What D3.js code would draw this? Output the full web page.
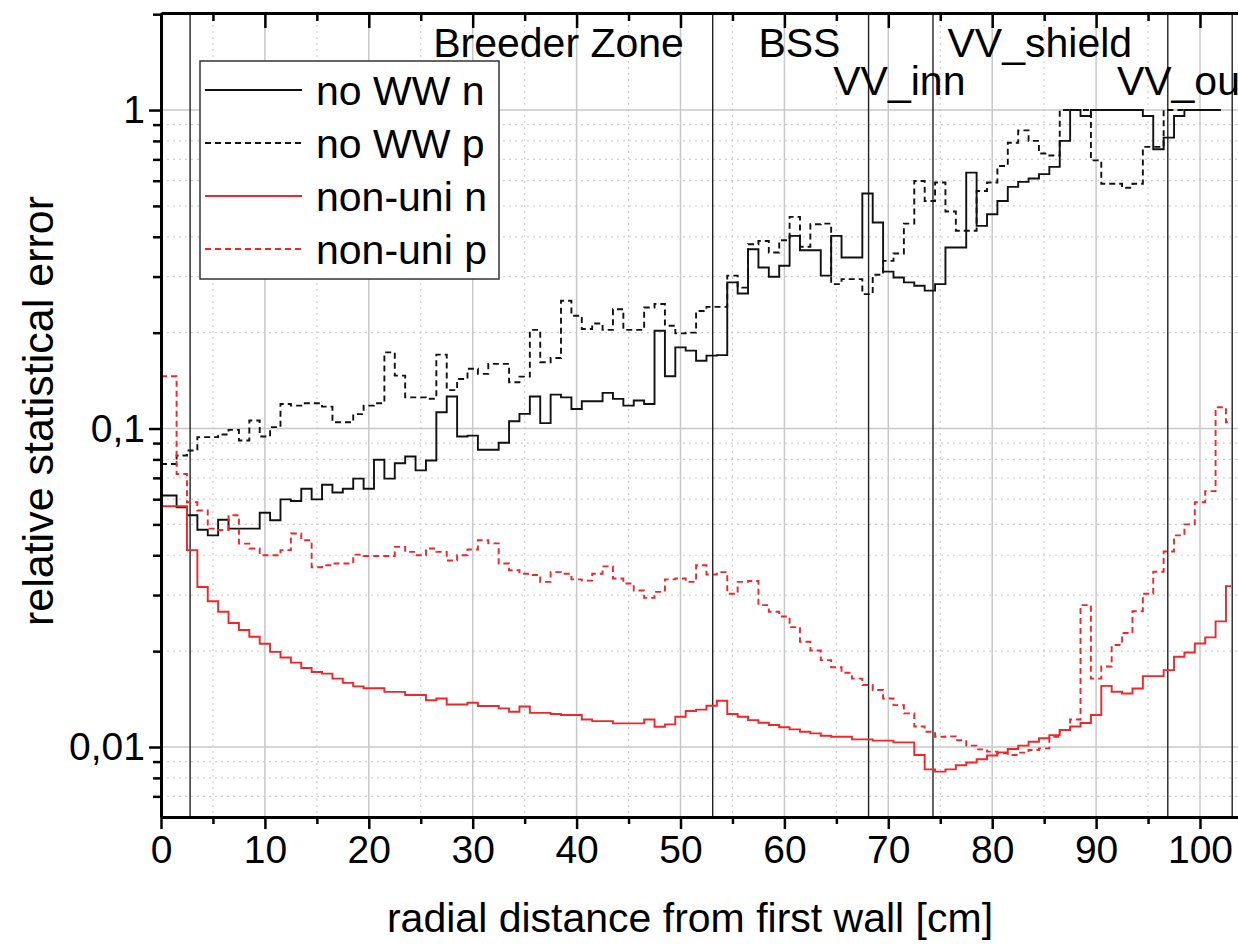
<!DOCTYPE html>
<html>
<head>
<meta charset="utf-8">
<script src="https://cdn.jsdelivr.net/npm/d3@7"></script>
<style>
  body { margin: 0; background: #fff; }
  text { font-family: "Liberation Sans", Arial, sans-serif; fill: #000; }
</style>
</head>
<body>
<div id="chart"></div>
<script>
// bin centres in cm from the first wall
var binsN = d3.range(0, 103);   // 0..102 (no WW runs stop at 102)
var binsU = d3.range(0, 104);   // 0..103

var noWWn = [0.0616, 0.0616, 0.0566, 0.0534, 0.0481, 0.0462, 0.0517, 0.0485, 0.0485, 0.0485,
  0.0544, 0.0515, 0.0599, 0.0592, 0.0647, 0.0599, 0.0666, 0.063, 0.0647, 0.0696,
  0.0647, 0.0798, 0.0696, 0.0778, 0.0817, 0.0739, 0.0794, 0.1125, 0.126, 0.0944,
  0.095, 0.0858, 0.0858, 0.0902, 0.1054, 0.1112, 0.126, 0.104, 0.1278, 0.1253,
  0.1152, 0.1218, 0.1218, 0.1294, 0.1239, 0.118, 0.1225, 0.1194, 0.2028, 0.1459,
  0.1798, 0.1756, 0.1633, 0.1694, 0.170, 0.2877, 0.2655, 0.3656, 0.3205, 0.2995,
  0.3243, 0.4027, 0.363, 0.363, 0.302, 0.4027, 0.3445, 0.3445, 0.547, 0.4435,
  0.311, 0.298, 0.2877, 0.2806, 0.271, 0.284, 0.37, 0.37, 0.636, 0.4327,
  0.471, 0.518, 0.5737, 0.595, 0.6095, 0.629, 0.663, 0.80, 1.0, 0.958,
  1.0, 1.0, 1.0, 1.0, 1.0, 0.958, 0.753, 0.819, 0.958, 1.0,
  1.0, 1.0, 1.0];

var noWWp = [0.0774, 0.0774, 0.0823, 0.0853, 0.094, 0.094, 0.0958, 0.099, 0.0917, 0.106,
  0.0944, 0.101, 0.1194, 0.118, 0.12, 0.12, 0.1172, 0.1047, 0.1047, 0.111,
  0.118, 0.12, 0.1734, 0.1466, 0.1253, 0.1253, 0.124, 0.1706, 0.132, 0.143,
  0.154, 0.1485, 0.1596, 0.1596, 0.1397, 0.1455, 0.204, 0.1614, 0.1665, 0.2519,
  0.226, 0.2053, 0.2138, 0.204, 0.237, 0.204, 0.204, 0.24, 0.246, 0.2103,
  0.199, 0.2, 0.234, 0.241, 0.241, 0.302, 0.277, 0.379, 0.388, 0.357,
  0.39, 0.462, 0.372, 0.438, 0.44, 0.284, 0.2946, 0.2946, 0.2643, 0.304,
  0.336, 0.3545, 0.44, 0.599, 0.518, 0.592, 0.48, 0.4177, 0.4177, 0.557,
  0.592, 0.667, 0.789, 0.863, 0.80, 0.73, 0.72, 1.0, 1.0, 1.0,
  0.695, 0.587, 0.587, 0.570, 0.587, 0.766, 0.766, 1.0, 1.0, 1.0,
  1.0, 1.0, 1.0];

var nonUniN = [0.057, 0.057, 0.057, 0.0415, 0.0318, 0.0287, 0.0266, 0.0245, 0.0233, 0.0222,
  0.0211, 0.0199, 0.0191, 0.0184, 0.0177, 0.0172, 0.0170, 0.0164, 0.0159, 0.0155,
  0.0153, 0.0153, 0.0149, 0.0149, 0.01456, 0.01456, 0.01403, 0.0142, 0.0136, 0.0136,
  0.01377, 0.01345, 0.01345, 0.01322, 0.0129, 0.0134, 0.0128, 0.0128, 0.01269, 0.0126,
  0.0126, 0.0122, 0.01206, 0.01206, 0.01186, 0.01186, 0.01186, 0.0122, 0.01158, 0.01178,
  0.01244, 0.01297, 0.0131, 0.01348, 0.01397, 0.0127, 0.01244, 0.01215, 0.01192, 0.01172,
  0.01153, 0.01136, 0.01117, 0.01104, 0.01085, 0.01077, 0.01077, 0.01057, 0.01057, 0.01047,
  0.01047, 0.01034, 0.01034, 0.00944, 0.00851, 0.00837, 0.00851, 0.00876, 0.00894, 0.00915,
  0.0094, 0.00962, 0.00986, 0.0101, 0.01039, 0.01065, 0.0109, 0.01131, 0.0116, 0.0119,
  0.0126, 0.01556, 0.01491, 0.01473, 0.01527, 0.0167, 0.0167, 0.01744, 0.0192, 0.0198,
  0.02113, 0.0221, 0.0248, 0.032];

var nonUniP = [0.1459, 0.1459, 0.072, 0.0587, 0.0553, 0.0485, 0.048, 0.0534, 0.0435, 0.042,
  0.04, 0.04, 0.0415, 0.0468, 0.0446, 0.0367, 0.0372, 0.0377, 0.0377, 0.0402,
  0.0398, 0.0398, 0.0398, 0.0425, 0.041, 0.04, 0.042, 0.041, 0.0385, 0.04,
  0.0417, 0.0446, 0.0436, 0.0377, 0.0359, 0.035, 0.0347, 0.033, 0.0354, 0.035,
  0.0336, 0.0333, 0.035, 0.0369, 0.0338, 0.0326, 0.031, 0.0294, 0.0307, 0.0336,
  0.0338, 0.033, 0.0372, 0.0348, 0.0354, 0.0303, 0.033, 0.0332, 0.0279, 0.0266,
  0.0257, 0.0238, 0.0214, 0.0201, 0.01874, 0.0178, 0.0171, 0.0164, 0.01565, 0.0151,
  0.0142, 0.01354, 0.01275, 0.0116, 0.01117, 0.01077, 0.0108, 0.0105, 0.0101, 0.00983,
  0.00967, 0.00955, 0.00944, 0.0096, 0.00979, 0.0099, 0.01077, 0.01131, 0.0122, 0.0279,
  0.0164, 0.0179, 0.0209, 0.0228, 0.0267, 0.0303, 0.0355, 0.0411, 0.0462, 0.05,
  0.0587, 0.0636, 0.1166, 0.1047];

// zone boundaries [cm] and zone names
var zoneEdges = [2.8, 53.1, 68.1, 74.3, 96.9, 103.1];
var zoneNames = ["Breeder Zone", "BSS", "VV_inn", "VV_shield", "VV_out"];
var zoneLabelX = [26.2, 57.5, 64.7, 75.7, 92.0];

var xMajor = [0, 10, 20, 30, 40, 50, 60, 70, 80, 90, 100];
var xMinor = [5, 15, 25, 35, 45, 55, 65, 75, 85, 95, 105];
var yMajor = [0.01, 0.1, 1];
var yMinor = [0.007, 0.008, 0.009, 0.02, 0.03, 0.04, 0.05, 0.06, 0.07, 0.08, 0.09,
  0.2, 0.3, 0.4, 0.5, 0.6, 0.7, 0.8, 0.9, 2];

var seriesNames = ["no WW n", "no WW p", "non-uni n", "non-uni p"];

var red = "#f0262b";
var series = [
  { name: seriesNames[0], xs: binsN, ys: noWWn, color: "#111", dash: null },
  { name: seriesNames[1], xs: binsN, ys: noWWp, color: "#111", dash: "6,4" },
  { name: seriesNames[2], xs: binsU, ys: nonUniN, color: red, dash: null },
  { name: seriesNames[3], xs: binsU, ys: nonUniP, color: red, dash: "6,4" }
];

var W = 1238, H = 945;
var plotL = 161, plotT = 13, plotB = 817;

var svg = d3.select("#chart")
  .append("svg")
    .attr("width", W)
    .attr("height", H);

var x = d3.scaleLinear()
  .domain([0, 105])
  .range([plotL, plotL + 105 * 10.39]);

var y = d3.scaleLog()
  .domain([0.006029, 2.017])
  .range([plotB, plotT]);

svg.append("defs").append("clipPath")
  .attr("id", "plot")
  .append("rect")
    .attr("x", plotL).attr("y", plotT)
    .attr("width", W - plotL).attr("height", plotB - plotT);

// grid
var grid = svg.append("g");
grid.selectAll(".gxm").data(xMinor).enter().append("line")
  .attr("x1", d => x(d)).attr("x2", d => x(d))
  .attr("y1", plotT).attr("y2", plotB)
  .attr("stroke", "#cfcfcf").attr("stroke-width", 1.2).attr("stroke-dasharray", "2,4");
grid.selectAll(".gym").data(yMinor).enter().append("line")
  .attr("x1", plotL).attr("x2", W)
  .attr("y1", d => y(d)).attr("y2", d => y(d))
  .attr("stroke", "#cfcfcf").attr("stroke-width", 1.2).attr("stroke-dasharray", "2,4");
grid.selectAll(".gx").data(xMajor).enter().append("line")
  .attr("x1", d => x(d)).attr("x2", d => x(d))
  .attr("y1", plotT).attr("y2", plotB)
  .attr("stroke", "#c8c8c8").attr("stroke-width", 1.5);
grid.selectAll(".gy").data(yMajor).enter().append("line")
  .attr("x1", plotL).attr("x2", W)
  .attr("y1", d => y(d)).attr("y2", d => y(d))
  .attr("stroke", "#c8c8c8").attr("stroke-width", 1.5);

// zone boundaries
svg.append("g").selectAll("line").data(zoneEdges).enter().append("line")
  .attr("x1", d => x(d)).attr("x2", d => x(d))
  .attr("y1", plotT).attr("y2", plotB)
  .attr("stroke", "#222").attr("stroke-width", 1.4);

// histogram lines
var line = d3.line()
  .curve(d3.curveStep)
  .x(d => x(d[0]))
  .y(d => y(d[1]));

svg.append("g").attr("clip-path", "url(#plot)")
  .selectAll("path").data(series).enter().append("path")
    .attr("fill", "none")
    .attr("stroke", d => d.color)
    .attr("stroke-width", 1.9)
    .attr("stroke-dasharray", d => d.dash)
    .attr("d", d => line(d.xs.map((v, i) => [v, d.ys[i]])));

// axes
function styleAxis(g) {
  g.select(".domain").attr("stroke-width", 3);
  g.selectAll(".tick line").attr("stroke-width", 2.5);
  g.selectAll("text").style("font-size", "39px").attr("font-family", null);
}

svg.append("g")
  .attr("transform", "translate(0," + plotB + ")")
  .call(d3.axisBottom(x).tickValues(xMajor).tickSize(12).tickSizeOuter(0).tickPadding(6)
    .tickFormat(d3.format("d")))
  .call(styleAxis);
svg.append("g")
  .attr("transform", "translate(0," + plotB + ")")
  .call(d3.axisBottom(x).tickValues(xMinor).tickSize(7).tickFormat(""))
  .call(g => g.select(".domain").remove())
  .call(styleAxis);

// top axis, ticks pointing in
svg.append("g")
  .attr("transform", "translate(0," + plotT + ")")
  .call(d3.axisBottom(x).tickValues(xMajor).tickSize(15).tickSizeOuter(0).tickFormat(""))
  .call(styleAxis);
svg.append("g")
  .attr("transform", "translate(0," + plotT + ")")
  .call(d3.axisBottom(x).tickValues(xMinor).tickSize(8).tickFormat(""))
  .call(g => g.select(".domain").remove())
  .call(styleAxis);

svg.append("g")
  .attr("transform", "translate(" + plotL + ",0)")
  .call(d3.axisLeft(y).tickValues(yMajor).tickSize(12).tickSizeOuter(0).tickPadding(4)
    .tickFormat(d => String(d).replace(".", ",")))
  .call(styleAxis);
svg.append("g")
  .attr("transform", "translate(" + plotL + ",0)")
  .call(d3.axisLeft(y).tickValues(yMinor).tickSize(8).tickFormat(""))
  .call(g => g.select(".domain").remove())
  .call(styleAxis);

// zone labels
svg.append("g").selectAll("text").data(zoneNames).enter().append("text")
  .attr("x", (d, i) => x(zoneLabelX[i]))
  .attr("y", (d, i) => (i == 2 || i == 4) ? 95 : 57)
  .style("font-size", "41px")
  .text(d => d);

// axis titles
svg.append("text")
  .attr("transform", "translate(53," + 411 + ") rotate(-90)")
  .style("text-anchor", "middle")
  .style("font-size", "43px")
  .text("relative statistical error");

svg.append("text")
  .attr("x", 690)
  .attr("y", 932)
  .style("text-anchor", "middle")
  .style("font-size", "41px")
  .text("radial distance from first wall [cm]");

// legend
var legend = svg.append("g").attr("transform", "translate(200,61)");
legend.append("rect")
  .attr("width", 299).attr("height", 218)
  .attr("fill", "#fff")
  .attr("stroke", "#333").attr("stroke-width", 1.5);
var item = legend.selectAll(".item").data(series).enter().append("g")
  .attr("transform", (d, i) => "translate(0," + (29 + i * 53) + ")");
item.append("line")
  .attr("x1", 5).attr("x2", 102)
  .attr("stroke", d => d.color)
  .attr("stroke-width", 1.8)
  .attr("stroke-dasharray", d => d.dash);
item.append("text")
  .attr("x", 116).attr("y", 15)
  .style("font-size", "41px")
  .text(d => d.name);
</script>
</body>
</html>
